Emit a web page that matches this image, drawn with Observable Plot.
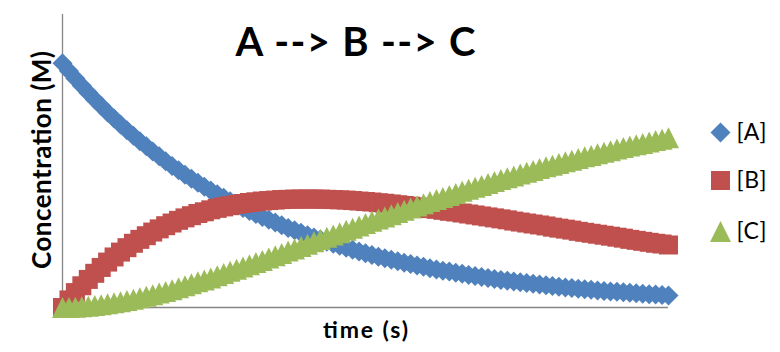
<!DOCTYPE html>
<html>
<head>
<meta charset="utf-8">
<script src="https://cdn.jsdelivr.net/npm/d3@7"></script>
<script src="https://cdn.jsdelivr.net/npm/@observablehq/plot@0.6"></script>
<style>
  html, body { margin: 0; padding: 0; background: #ffffff; }
  #chart { width: 780px; height: 352px; }
</style>
</head>
<body>
<div id="chart"></div>
<script>
// ---- data ----
const time = [
  0,1,2,3,4,5,6,7,8,9,
  10,11,12,13,14,15,16,17,18,19,
  20,21,22,23,24,25,26,27,28,29,
  30,31,32,33,34,35,36,37,38,39,
  40,41,42,43,44,45,46,47,48,49,
  50,51,52,53,54,55,56,57,58,59,
  60,61,62,63,64,65,66,67,68,69,
  70,71,72,73,74,75,76,77,78,79,
  80,81,82,83,84,85,86,87,88,89,
  90,91,92,93,94
];
const concA = [
  1.000,0.969,0.938,0.908,0.880,0.852,0.825,0.799,0.774,0.750,
  0.726,0.703,0.681,0.660,0.639,0.619,0.599,0.580,0.562,0.544,
  0.527,0.511,0.495,0.479,0.464,0.449,0.435,0.421,0.408,0.395,
  0.383,0.371,0.359,0.348,0.337,0.326,0.316,0.306,0.296,0.287,
  0.278,0.269,0.261,0.253,0.245,0.237,0.229,0.222,0.215,0.208,
  0.202,0.196,0.189,0.183,0.178,0.172,0.167,0.161,0.156,0.151,
  0.147,0.142,0.138,0.133,0.129,0.125,0.121,0.117,0.113,0.110,
  0.106,0.103,0.100,0.097,0.094,0.091,0.088,0.085,0.082,0.080,
  0.077,0.075,0.073,0.070,0.068,0.066,0.064,0.062,0.060,0.058,
  0.056,0.054,0.053,0.051,0.049
];
const concB = [
  0.000,0.031,0.061,0.089,0.115,0.140,0.164,0.186,0.207,0.227,
  0.245,0.263,0.279,0.294,0.309,0.322,0.335,0.346,0.357,0.367,
  0.376,0.385,0.392,0.400,0.406,0.412,0.417,0.422,0.426,0.430,
  0.433,0.436,0.438,0.440,0.442,0.443,0.444,0.444,0.444,0.444,
  0.444,0.443,0.442,0.441,0.440,0.438,0.436,0.434,0.432,0.429,
  0.427,0.424,0.421,0.418,0.415,0.412,0.409,0.405,0.402,0.398,
  0.394,0.391,0.387,0.383,0.379,0.375,0.371,0.367,0.363,0.359,
  0.354,0.350,0.346,0.342,0.338,0.334,0.329,0.325,0.321,0.317,
  0.312,0.308,0.304,0.300,0.296,0.292,0.288,0.284,0.279,0.275,
  0.271,0.267,0.263,0.260,0.256
];
const concC = [
  0.000,0.000,0.001,0.003,0.005,0.008,0.011,0.015,0.019,0.024,
  0.029,0.034,0.040,0.046,0.052,0.059,0.066,0.073,0.081,0.089,
  0.097,0.105,0.113,0.121,0.130,0.139,0.148,0.157,0.166,0.175,
  0.184,0.193,0.203,0.212,0.221,0.231,0.240,0.250,0.259,0.269,
  0.278,0.288,0.297,0.306,0.316,0.325,0.334,0.344,0.353,0.362,
  0.371,0.380,0.389,0.398,0.407,0.416,0.425,0.434,0.442,0.451,
  0.459,0.467,0.476,0.484,0.492,0.500,0.508,0.516,0.524,0.531,
  0.539,0.547,0.554,0.561,0.569,0.576,0.583,0.590,0.597,0.603,
  0.610,0.617,0.623,0.630,0.636,0.642,0.649,0.655,0.661,0.667,
  0.672,0.678,0.684,0.689,0.695
];
const seriesNames = ["[A]", "[B]", "[C]"];
const titleText = "A --> B --> C";
const xLabel = "time (s)";
const yLabel = "Concentration (M)";

// ---- styles ----
const colors = ["#4F81BD", "#C0504D", "#9BBB59"];
const axisColor = "#868686";
const font = "Lato, 'Open Sans', sans-serif";

// marker shapes (bounding-box centred, like Excel markers)
const diamond = {draw(ctx, size) { const s = Math.sqrt(size) / 2;
  ctx.moveTo(0, -s); ctx.lineTo(s, 0); ctx.lineTo(0, s); ctx.lineTo(-s, 0); ctx.closePath(); }};
const square = {draw(ctx, size) { const s = Math.sqrt(size) / 2;
  ctx.moveTo(-s, -s); ctx.lineTo(s, -s); ctx.lineTo(s, s); ctx.lineTo(-s, s); ctx.closePath(); }};
const triangle = {draw(ctx, size) { const s = Math.sqrt(size) / 2;
  ctx.moveTo(0, -s); ctx.lineTo(s, s); ctx.lineTo(-s, s); ctx.closePath(); }};
const symbols = [diamond, square, triangle];
const sizePx = [20, 19, 21];               // marker extent in px
const radii = sizePx.map(p => p / Math.sqrt(Math.PI));

const rows = time.map((t, i) => ({t, A: concA[i], B: concB[i], C: concC[i]}));
const keys = ["A", "B", "C"];
const legendDy = [-28.5, 19.5, 70.5];

const marks = [
  Plot.ruleX([0], {stroke: axisColor, strokeWidth: 1.3}),
  Plot.ruleY([0], {stroke: axisColor, strokeWidth: 1.3}),
];
keys.forEach((k, i) => {
  marks.push(Plot.dot(rows, {x: "t", y: k, symbol: symbols[i], r: radii[i], fill: colors[i]}));
});
// legend
seriesNames.forEach((name, i) => {
  marks.push(Plot.dot([name], {frameAnchor: "right", dx: 52, dy: legendDy[i], symbol: symbols[i], r: radii[i], fill: colors[i]}));
  marks.push(Plot.text([name], {frameAnchor: "right", dx: 68, dy: legendDy[i], text: d => d, textAnchor: "start", lineAnchor: "middle", fontSize: 23, fontFamily: font}));
});
// title and axis labels
marks.push(Plot.text([titleText], {frameAnchor: "top", dx: -10, dy: 41, text: d => d, lineAnchor: "bottom", fontSize: 40, fontWeight: "bold", fontFamily: font}));
marks.push(Plot.text([xLabel], {frameAnchor: "bottom", dy: 30, text: d => d, lineAnchor: "bottom", fontSize: 23, fontWeight: "bold", fontFamily: font}));
marks.push(Plot.text([yLabel], {frameAnchor: "left", dx: -20, dy: -1, text: d => d, rotate: -90, textAnchor: "middle", lineAnchor: "middle", fontSize: 26, fontWeight: "bold", fontFamily: font}));

const chart = Plot.plot({
  width: 780,
  height: 352,
  marginLeft: 62,
  marginRight: 112,
  marginTop: 14,
  marginBottom: 45,
  x: {domain: [0, 94], axis: null},
  y: {domain: [0, 1.2], axis: null},
  style: {fontFamily: font, color: "#000", background: "#fff"},
  marks
});

// widen text spacing to match the reference's (Calibri-like) text widths
const textWidths = new Map([[titleText, 240], [xLabel, 85], [yLabel, 218], ["[A]", 30], ["[B]", 30], ["[C]", 30]]);
d3.select(chart).selectAll("text").each(function () {
  const w = textWidths.get(this.textContent);
  if (w) { this.setAttribute("textLength", w); this.setAttribute("lengthAdjust", "spacing"); }
});
document.getElementById("chart").appendChild(chart);
</script>
</body>
</html>
